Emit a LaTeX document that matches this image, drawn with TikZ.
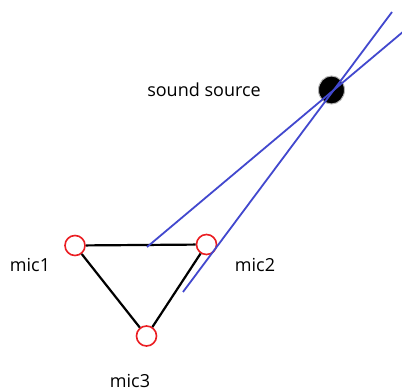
\documentclass[tikz,border=0pt]{standalone}
\usepackage{fontspec}
\setmainfont{Open Sans}
\usetikzlibrary{shapes.geometric}
\definecolor{raycol}{RGB}{66,72,206}
\definecolor{miccol}{RGB}{235,30,35}
\begin{document}
\begin{tikzpicture}[x=1pt,y=-1pt,
  mic/.style={circle,draw=miccol,line width=1.6pt,minimum size=20pt,inner sep=0pt},
  edge/.style={draw=black,line width=2.2pt},
  ray/.style={draw=raycol,line width=1.8pt},
  lbl/.style={font=\fontsize{18}{20}\selectfont,inner sep=0pt,text=black,anchor=base}]
\useasboundingbox[fill=white] (0,0) rectangle (402,390);
\node[mic] (m1) at (75,245.5) {};
\node[mic] (m2) at (206.5,244.5) {};
\node[mic] (m3) at (146.5,336) {};
\node[ellipse,fill=black,draw=gray!60,line width=1pt,minimum width=26pt,minimum height=28pt,inner sep=0pt] (src) at (331.5,90) {};
\draw[edge] (m1) -- (m2);
\draw[edge] (m1) -- (m3);
\draw[edge] (m3) -- (m2);
\coordinate (a1) at (147,247);
\coordinate (a2) at (404,31);
\coordinate (b1) at (183,292);
\coordinate (b2) at (392,12);
\draw[ray] (a1) -- (a2);
\draw[ray] (b1) -- (b2);
\node[lbl] (t0) at (204,97) {sound source};
\node[lbl] (t1) at (30,272) {mic1};
\node[lbl] (t2) at (255,272) {mic2};
\node[lbl] (t3) at (130,387) {mic3};
\end{tikzpicture}
\end{document}
